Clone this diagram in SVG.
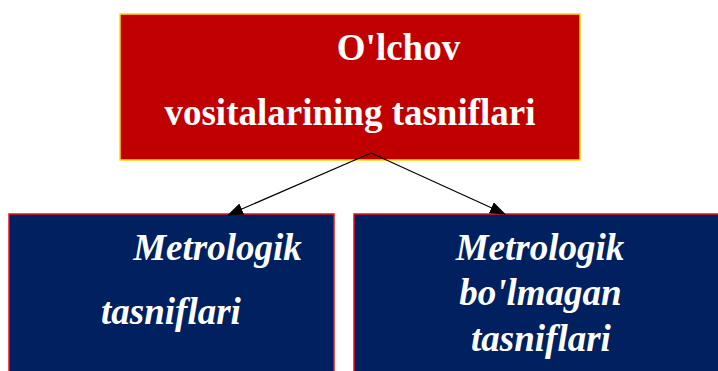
<svg xmlns="http://www.w3.org/2000/svg" width="718" height="371" viewBox="0 0 718 371">
<style>
.top{fill:#C00000;stroke:#FFD700;stroke-width:1.5}
.sub{fill:#00205F;stroke:#E8101E;stroke-width:1.5}
.t1{font-family:"Liberation Serif",serif;font-weight:bold;font-size:37px;fill:#fff}
.t2{font-family:"Liberation Serif",serif;font-weight:bold;font-style:italic;font-size:37px;fill:#fff}
.con{stroke:#000;stroke-width:1.2;fill:none;marker-end:url(#ah)}
</style>
<defs>
<marker id="ah" markerWidth="16" markerHeight="12" refX="15" refY="6" orient="auto" markerUnits="userSpaceOnUse">
<path d="M0,0 L16,6 L0,12 Z" fill="#000"/>
</marker>
</defs>
<g id="node-root">
<rect class="top" x="120" y="14" width="460" height="146"/>
<text class="t1" x="398.5" y="60" text-anchor="middle">O'lchov</text>
<text class="t1" x="350" y="125" text-anchor="middle">vositalarining tasniflari</text>
</g>
<g id="node-metrologik">
<rect class="sub" x="9" y="214" width="325" height="170"/>
<text class="t2" x="217.5" y="260" text-anchor="middle">Metrologik</text>
<text class="t2" x="171" y="324" text-anchor="middle">tasniflari</text>
</g>
<g id="node-nometrologik">
<rect class="sub" x="354" y="214" width="380" height="170"/>
<text class="t2" x="540" y="260" text-anchor="middle">Metrologik</text>
<text class="t2" x="540.5" y="305" text-anchor="middle">bo'lmagan</text>
<text class="t2" x="541" y="351" text-anchor="middle">tasniflari</text>
</g>
<g id="connectors">
<line class="con" x1="371" y1="153" x2="228" y2="215"/>
<line class="con" x1="371" y1="153" x2="505" y2="214"/>
</g>
</svg>
